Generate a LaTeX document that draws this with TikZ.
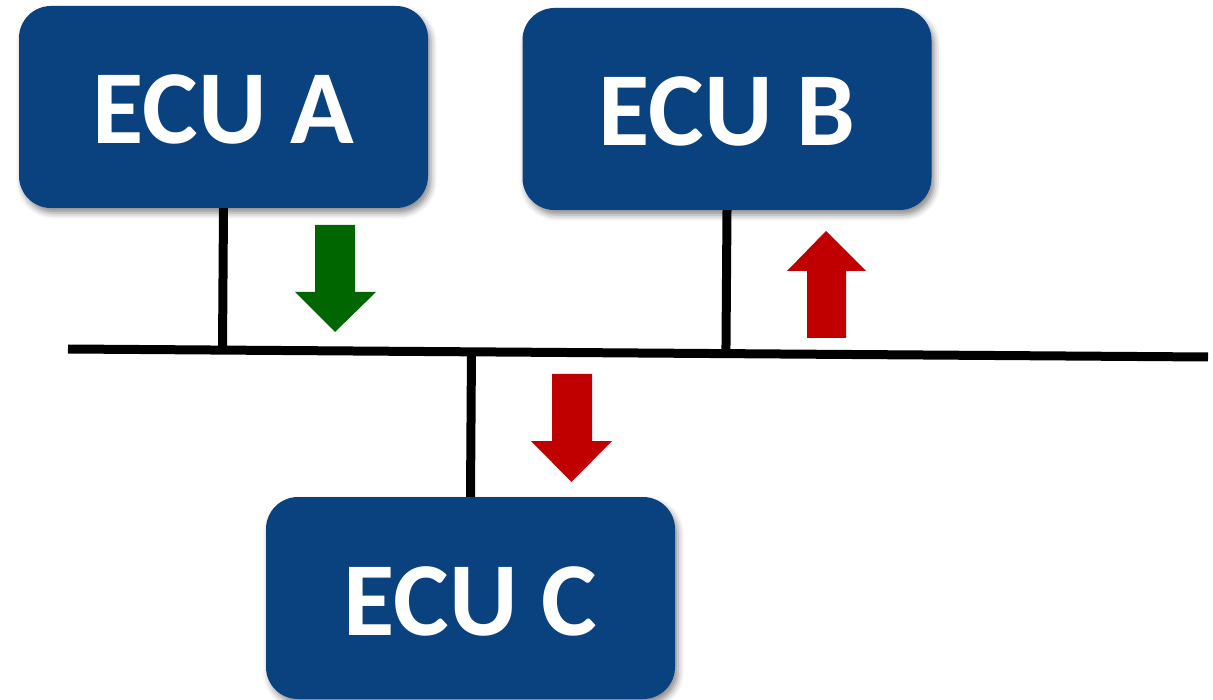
\documentclass[tikz,border=0pt]{standalone}
\usepackage{fontspec}
\setmainfont{Carlito}
\usetikzlibrary{calc,shadows.blur}
\definecolor{ecublue}{HTML}{0A4280}
\definecolor{txgreen}{HTML}{006600}
\definecolor{rxred}{HTML}{C00000}
\tikzset{
  ecu/.style={rectangle, rounded corners=32pt, fill=ecublue, text=white,
    minimum width=409pt, minimum height=202pt, inner sep=0pt,
    font=\fontsize{105}{112}\selectfont\bfseries,
    text height=74pt, text depth=0pt,
    blur shadow={shadow xshift=3pt, shadow yshift=-5pt, shadow blur radius=6pt, shadow opacity=45}},
  wire/.style={line width=9pt, black},
  flowarrow/.style={draw=none}
}
\begin{document}
\begin{tikzpicture}[x=1pt, y=-1pt]
  \useasboundingbox (0,0) rectangle (1213,700);

  % bus line
  \coordinate (busL) at (68,349);
  \coordinate (busR) at (1208,357);
  \draw[wire] (busL) -- (busR);

  % control units
  \node[ecu] (A) at (223.5,107) {ECU A};
  \node[ecu] (B) at (727,109) {ECU B};
  \node[ecu] (C) at (470.5,598) {ECU C};

  % stubs from each unit to the bus
  \draw[wire] (A.south) -- ($(busL)!(A.south)!(busR)$);
  \draw[wire] (B.south) -- ($(busL)!(B.south)!(busR)$);
  \draw[wire] ($(busL)!(C.north)!(busR)$) -- (C.north);

  % A transmits onto the bus
  \fill[txgreen, flowarrow] (315,225) -- (355,225) -- (355,292) -- (376,292)
    -- (335,332) -- (295,292) -- (315,292) -- cycle;
  % B receives from the bus
  \fill[rxred, flowarrow] (807,338) -- (846,338) -- (846,271) -- (866,271)
    -- (826,231) -- (787,271) -- (807,271) -- cycle;
  % C receives from the bus
  \fill[rxred, flowarrow] (552,374) -- (592,374) -- (592,441) -- (612,441)
    -- (571.5,482) -- (531,441) -- (552,441) -- cycle;
\end{tikzpicture}
\end{document}
